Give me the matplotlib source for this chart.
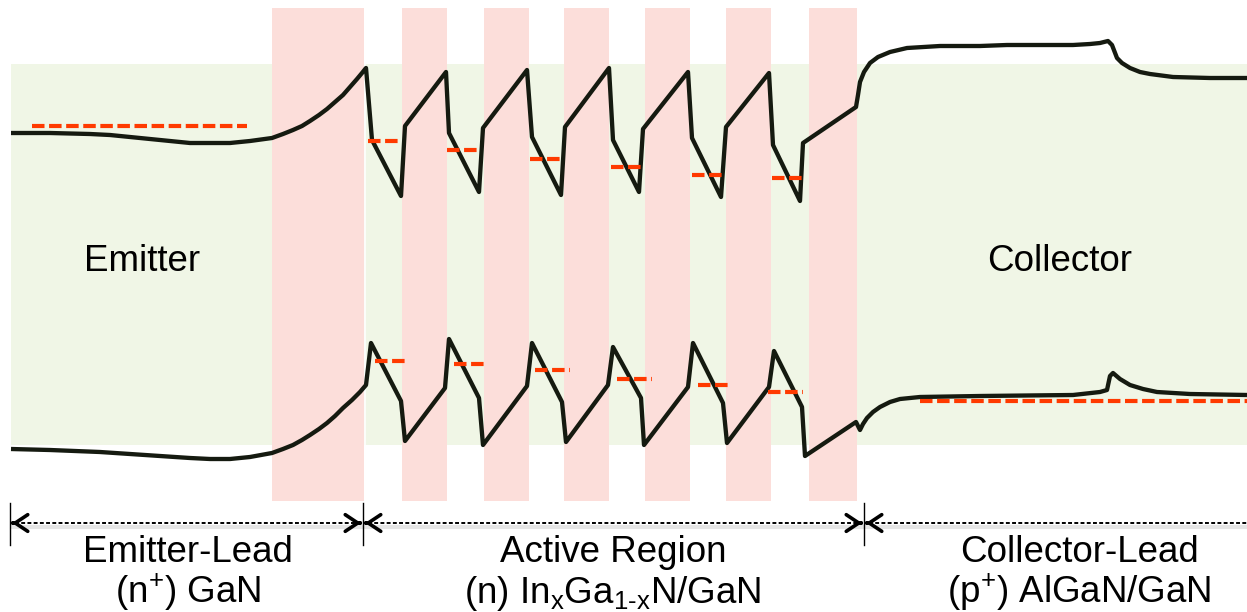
import matplotlib
matplotlib.use("Agg")
import matplotlib.pyplot as plt
from matplotlib.patches import Rectangle

plt.rcParams['font.family'] = ['Liberation Sans', 'DejaVu Sans']
plt.rcParams['mathtext.fontset'] = 'custom'
plt.rcParams['mathtext.rm'] = 'Liberation Sans'
plt.rcParams['mathtext.it'] = 'Liberation Sans'
plt.rcParams['mathtext.bf'] = 'Liberation Sans:bold'

# ---------------- data (image units: x to the right, y downward) ----------------
# barrier (pink) layers: left / right edges
barrier_left = [272, 402, 484, 564, 645, 726, 809]
barrier_right = [364, 447, 529, 609, 690, 771, 857]

# conduction band
cb_x = [11, 50, 90, 110, 130, 150, 170, 190, 210, 230, 250, 272,
        283, 293, 302, 310, 319, 327, 335, 343, 350, 357, 362, 366,
        372, 401, 405, 446, 449, 479, 483, 527, 532, 561, 565, 609, 613, 639,
        643, 688, 692, 721, 726, 769, 773, 800, 803, 856,
        858, 860, 864, 870, 878, 890, 907, 940, 980, 1007, 1073, 1090, 1100,
        1108, 1112, 1117, 1122, 1130, 1140, 1150, 1173, 1210, 1247]
cb_y = [133, 133, 134, 135, 137, 139, 141, 143, 143, 143, 141, 138,
        134, 130, 126, 121, 115, 109, 102, 95, 87, 79, 73, 68,
        140, 196, 126, 72, 133, 192, 128, 70, 137, 195, 127, 68, 140, 192,
        129, 72, 138, 197, 127, 73, 145, 201, 143, 107,
        95, 82, 72, 63, 57, 52, 48, 46, 46, 45, 45, 44, 43,
        41, 45, 58, 63, 68, 72, 74, 77, 78, 78]

# valence band
vb_x = [11, 50, 100, 130, 160, 190, 210, 230, 250, 272, 283, 293, 302, 310,
        319, 327, 335, 343, 352, 360, 366,
        371, 401, 405, 445, 449, 479, 483, 527, 532, 562, 566, 608, 613, 641,
        644, 688, 693, 723, 727, 769, 774, 802, 805, 856, 860,
        863, 867, 873, 880, 890, 900, 910, 920, 980, 1073, 1100, 1107, 1110,
        1113, 1120, 1130, 1143, 1157, 1190, 1247]
vb_y = [449, 450, 452, 454, 456, 458, 459, 459, 457, 453, 449, 445, 440, 435,
        429, 423, 416, 408, 400, 392, 385,
        343, 401, 441, 388, 339, 398, 445, 386, 343, 402, 442, 385, 347, 398,
        445, 387, 343, 403, 443, 387, 351, 407, 456, 422, 430,
        424, 418, 412, 407, 402, 399, 398, 397, 396, 395, 392, 390, 376,
        373, 379, 385, 389, 392, 394, 395]

# Fermi levels in leads
ef_emitter = (32, 247, 126)
ef_collector = (920, 1247, 401)

# quasi-Fermi levels in active wells
qf_cb_start = [368, 447, 530, 611, 692, 772]
qf_cb_end = [402, 480, 563, 645, 726, 806]
qf_cb_y = [141, 150, 159, 167, 175, 178]
qf_vb_start = [375, 454, 535, 617, 698, 768]
qf_vb_end = [409, 488, 570, 652, 732, 803]
qf_vb_y = [361, 364, 370, 379, 385, 392]

# region boundaries for the bottom arrows
region_edges = [10, 363, 864, 1252]
region_line1 = ['Emitter-Lead', 'Active Region', 'Collector-Lead']
region_line2 = [r'(n$^{+}$) GaN', r'(n) In$_{\mathrm{x}}$Ga$_{\text{1-x}}$N/GaN',
                r'(p$^{+}$) AlGaN/GaN']
region_label_x = [188, 613, 1079]

# ---------------- figure ----------------
fig = plt.figure(figsize=(12.47, 6.12), dpi=100)
ax = fig.add_axes([0, 0, 1, 1])
ax.set_xlim(0, 1247)
ax.set_ylim(612, 0)
ax.axis('off')

green = '#F0F6E6'
pink = '#FCDEDA'
ax.add_patch(Rectangle((11, 64), 1247 - 11, 445 - 64, facecolor=green,
                       edgecolor='none', zorder=1))
for l, r in zip(barrier_left, barrier_right):
    ax.add_patch(Rectangle((l, 8), r - l, 501 - 8, facecolor=pink,
                           edgecolor='none', zorder=2))
ax.plot([364.6, 364.6], [64, 445], color='white', lw=1.2, zorder=2.5)

band_col = '#151a10'
ax.plot(cb_x, cb_y, color=band_col, lw=3.1, solid_joinstyle='round',
        solid_capstyle='butt', zorder=5)
ax.plot(vb_x, vb_y, color=band_col, lw=3.1, solid_joinstyle='round',
        solid_capstyle='butt', zorder=5)

red = '#FF3A00'
dash = (0, (3.0, 1.1))
ax.plot(ef_emitter[:2], [ef_emitter[2]] * 2, color=red, lw=3.0, ls=dash,
        dash_capstyle='butt', zorder=6)
ax.plot(ef_collector[:2], [ef_collector[2]] * 2, color=red, lw=3.0, ls=dash,
        dash_capstyle='butt', zorder=6)
for s, e, y in zip(qf_cb_start, qf_cb_end, qf_cb_y):
    ax.plot([s, e], [y, y], color=red, lw=3.0, ls=dash, dash_capstyle='butt',
            zorder=6)
for s, e, y in zip(qf_vb_start, qf_vb_end, qf_vb_y):
    ax.plot([s, e], [y, y], color=red, lw=3.0, ls=dash, dash_capstyle='butt',
            zorder=6)

ax.text(142, 271, 'Emitter', fontsize=26.5, ha='center', va='baseline', zorder=7)
ax.text(1060, 271, 'Collector', fontsize=26.5, ha='center', va='baseline', zorder=7)

# bottom arrows
ay = 523
for x in region_edges[:3]:
    ax.plot([x, x], [503, 545], color='black', lw=1.0, zorder=6)
for i in range(3):
    x0 = region_edges[i] + 2
    x1 = region_edges[i + 1] - 2
    # shadow
    ax.plot([x0, x1], [ay + 4, ay + 4], color='#999999', lw=3, alpha=0.25, zorder=5)
    ax.plot([x0 + 3, x1 - 3], [ay, ay], color='black', lw=1.4,
            ls=(0, (2.0, 1.2)), zorder=6)
    ax.annotate('', xy=(x0, ay), xytext=(x0 + 1, ay),
                arrowprops=dict(arrowstyle='->,head_length=0.45,head_width=0.3',
                                lw=2.6, color='black', mutation_scale=20,
                                shrinkA=0, shrinkB=0), zorder=6)
    ax.annotate('', xy=(x1, ay), xytext=(x1 - 1, ay),
                arrowprops=dict(arrowstyle='->,head_length=0.45,head_width=0.3',
                                lw=2.6, color='black', mutation_scale=20,
                                shrinkA=0, shrinkB=0), zorder=6)

for x, t1, t2 in zip(region_label_x, region_line1, region_line2):
    ax.text(x, 562, t1, fontsize=26.5, ha='center', va='baseline', zorder=7)
    ax.text(x, 603, t2, fontsize=26.5, ha='center', va='baseline', zorder=7)

fig.savefig('out.png', dpi=100)
